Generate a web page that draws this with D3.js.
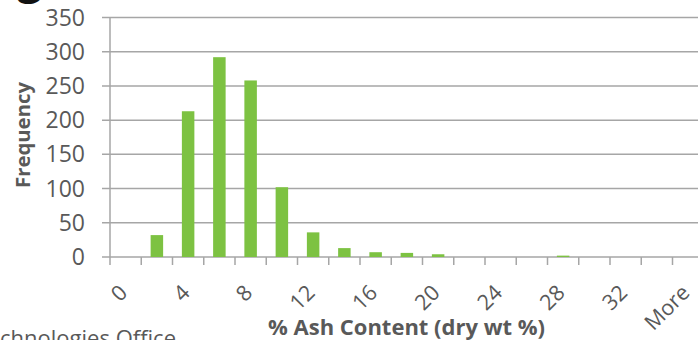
<!DOCTYPE html>
<html>
<head>
<meta charset="utf-8">
<script src="https://cdn.jsdelivr.net/npm/d3@7"></script>
<style>
  html, body { margin: 0; padding: 0; background: #fff; }
  svg { display: block; }
  text { font-family: "Open Sans", "Noto Sans", sans-serif; }
</style>
</head>
<body>
<svg id="chart" width="698" height="340"></svg>
<script>
// Histogram bins (upper bin edge, % ash dry wt) and counts per bin
const bins = ["0","2","4","6","8","10","12","14","16","18","20","22","24","26","28","30","32","34","More"];
const frequency = [0, 32, 213, 292, 258, 102, 36, 13, 7, 6, 4, 0, 0, 0, 2, 0, 0, 0, 0];
const yTicks = [0, 50, 100, 150, 200, 250, 300, 350];
const shownLabels = ["0","4","8","12","16","20","24","28","32","More"];

const svg = d3.select("#chart");
const margin = { left: 110, top: 17.5, bottom: 257 };
const plotRight = 110 + 19 * 31.25;

const x = d3.scaleBand().domain(bins).range([margin.left, plotRight]).paddingInner(0.6).paddingOuter(0.3);
const y = d3.scaleLinear().domain([0, 350]).range([margin.bottom, margin.top]);

const gridColor = "#a6a6a6";
const textColor = "#595959";

// shrink/grow a text node's font so that it spans the given width
function fitWidth(sel, width) {
  const node = sel.node();
  const fs = parseFloat(sel.attr("font-size"));
  const w = node.getComputedTextLength();
  if (w > 0) sel.attr("font-size", (fs * width / w).toFixed(2));
  return sel;
}

// horizontal gridlines (extend left as tick marks)
svg.append("g").selectAll("line").data(yTicks).join("line")
  .attr("x1", margin.left - 8).attr("x2", plotRight)
  .attr("y1", d => y(d)).attr("y2", d => y(d))
  .attr("stroke", gridColor).attr("stroke-width", 1.5);

// y axis line
svg.append("line")
  .attr("x1", margin.left).attr("x2", margin.left)
  .attr("y1", y(350)).attr("y2", y(0))
  .attr("stroke", gridColor).attr("stroke-width", 1.5);

// x tick marks at bin boundaries
const step = x.step();
const boundaries = d3.range(bins.length + 1).map(i => margin.left + i * step);
svg.append("g").selectAll("line").data(boundaries).join("line")
  .attr("x1", d => d).attr("x2", d => d)
  .attr("y1", y(0)).attr("y2", y(0) + 8)
  .attr("stroke", gridColor).attr("stroke-width", 1.5);

// bars
svg.append("g").selectAll("rect").data(bins).join("rect")
  .attr("x", d => x(d))
  .attr("width", x.bandwidth())
  .attr("y", (d, i) => y(frequency[i]))
  .attr("height", (d, i) => y(0) - y(frequency[i]))
  .attr("fill", "#7dc242");

// y tick labels
svg.append("g").selectAll("text").data(yTicks).join("text")
  .attr("x", 85).attr("y", d => y(d))
  .attr("dy", "0.35em")
  .attr("text-anchor", "end")
  .attr("font-size", 23)
  .attr("fill", textColor)
  .text(d => d);

// x tick labels, rotated
svg.append("g").selectAll("text").data(shownLabels).join("text")
  .attr("text-anchor", "end")
  .attr("font-size", 21.5)
  .attr("fill", textColor)
  .attr("transform", d => `translate(${x(d) + x.bandwidth() / 2 + 3},${294}) rotate(-45)`)
  .text(d => d);

// axis titles
const xTitle = svg.append("text")
  .attr("x", 406.5).attr("y", 335)
  .attr("text-anchor", "middle")
  .attr("font-size", 20).attr("font-weight", "bold")
  .attr("fill", textColor)
  .text("% Ash Content (dry wt %)");
fitWidth(xTitle, 277);

const yTitle = svg.append("text")
  .attr("transform", "translate(30,135) rotate(-90)")
  .attr("text-anchor", "middle")
  .attr("font-size", 20).attr("font-weight", "bold")
  .attr("fill", textColor)
  .text("Frequency");
fitWidth(yTitle, 106);

// surrounding slide text
svg.append("text")
  .attr("x", 176).attr("y", 346)
  .attr("text-anchor", "end")
  .attr("font-size", 22)
  .attr("fill", textColor)
  .text("Bioenergy Technologies Office");

svg.append("text")
  .attr("x", 20).attr("y", -8)
  .attr("font-size", 48).attr("font-weight", "bold").attr("font-style", "italic")
  .attr("fill", "#111")
  .text("g");
</script>
</body>
</html>
